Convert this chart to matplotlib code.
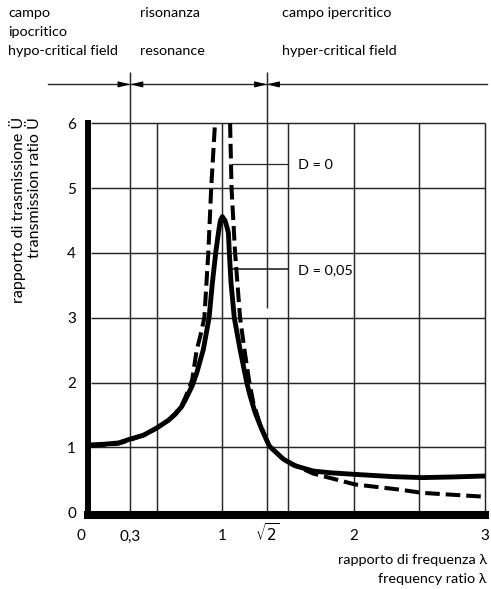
import numpy as np
import matplotlib
matplotlib.use('Agg')
import matplotlib.pyplot as plt
from matplotlib.transforms import ScaledTranslation, blended_transform_factory

plt.rcParams['font.family'] = ['Lato', 'DejaVu Sans']
plt.rcParams['mathtext.fontset'] = 'dejavusans'
plt.rcParams['lines.scale_dashes'] = False

# ---------------- data ----------------
# D = 0.05 (solid)
lam_d005 = [0.00, 0.10, 0.21, 0.30, 0.40, 0.50, 0.59, 0.64, 0.69, 0.72, 0.77, 0.805,
            0.855, 0.899, 0.924, 0.95, 0.97, 0.985, 1.00, 1.02, 1.035, 1.046, 1.053,
            1.066, 1.091, 1.135, 1.186, 1.211, 1.249, 1.30, 1.358, 1.465, 1.55,
            1.694, 1.82, 2.01, 2.30, 2.52, 2.75, 3.00]
T_d005 = [1.04, 1.05, 1.07, 1.13, 1.19, 1.30, 1.42, 1.51, 1.63, 1.74, 1.95, 2.15,
          2.51, 3.00, 3.54, 4.01, 4.31, 4.50, 4.56, 4.50, 4.40, 4.31, 4.01,
          3.54, 3.00, 2.51, 2.00, 1.80, 1.54, 1.28, 1.02, 0.82, 0.72,
          0.636, 0.61, 0.585, 0.55, 0.535, 0.545, 0.56]
# D = 0 (dashed), branch below resonance
lam_d0_left = [0.00, 0.10, 0.21, 0.30, 0.40, 0.50, 0.59, 0.64, 0.69, 0.72, 0.77,
               0.805, 0.83, 0.863, 0.893, 0.915, 0.944]
T_d0_left = [1.02, 1.04, 1.06, 1.12, 1.19, 1.30, 1.42, 1.52, 1.65, 1.78, 2.04,
             2.51, 2.70, 3.00, 4.00, 5.00, 6.00]
# D = 0 (dashed), branch above resonance
lam_d0_right = [1.059, 1.07, 1.097, 1.135, 1.168, 1.206, 1.235, 1.28, 1.33, 1.36,
                1.46, 1.59, 1.694, 2.01, 2.35, 2.52, 3.00]
T_d0_right = [6.00, 5.00, 4.00, 3.00, 2.51, 2.00, 1.70, 1.40, 1.15, 1.02,
              0.82, 0.69, 0.596, 0.43, 0.35, 0.30, 0.24]

x_tick_vals = [0, 0.3, 1, 1.34, 2, 3]
x_tick_labels = ['0', '0,3', '1', r'$\sqrt{2}$', '2', '3']
y_tick_vals = [0, 1, 2, 3, 4, 5, 6]
y_tick_labels = ['0', '1', '2', '3', '4', '5', '6']
x_grid = [0.5, 1, 1.5, 2, 2.5, 3]
y_grid = [1, 2, 3, 4, 5, 6]
region_bounds = [0.3, 1.34]
region_it = ['campo', 'risonanza', 'campo ipercritico']
region_it2 = ['ipocritico', '', '']
region_en = ['hypo-critical field', 'resonance', 'hyper-critical field']
curve_labels = ['D = 0', 'D = 0,05']
xlabel_lines = ['rapporto di frequenza λ', 'frequency ratio λ']
ylabel_lines = ['rapporto di trasmissione Ü', 'transmission ratio Ü']

# ---------------- figure ----------------
W, H = 491, 589
fig = plt.figure(figsize=(W / 100, H / 100), dpi=100)
fig.patch.set_facecolor('white')
FS = 10.4


def fx(px):
    return px / W


def fy(py):
    return 1 - py / H


ax = fig.add_axes([fx(88.4), fy(514.9), fx(485) - fx(88.4), fy(123.3) - fy(514.9)])
ax.set_xlim(-0.02, 3.0)
ax.set_ylim(-0.04, 6.0)
ax.set_facecolor('none')

for s in ['top', 'right']:
    ax.spines[s].set_visible(False)
ax.spines['left'].set_linewidth(4.3)
ax.spines['bottom'].set_linewidth(5.8)
for s in ['left', 'bottom']:
    ax.spines[s].set_capstyle('projecting')
    ax.spines[s].set_color('black')

grid_kw = dict(color='#262626', lw=1.05, clip_on=False, zorder=1)
# regular grid
ax.vlines(x_grid, 0, 6, **grid_kw)
ax.hlines(y_grid, 0, 3, **grid_kw)
# region separators (extend above the plot)
y_sep_top = 6.79
y_arrow = 6.60
ax.vlines(region_bounds[0], 0, y_sep_top, **grid_kw)
ax.vlines(region_bounds[1], 0, 3, **grid_kw)
ax.vlines(region_bounds[1], 3.15, y_sep_top, **grid_kw)
ax.plot([-0.33, 3.015], [y_arrow, y_arrow], color='#262626', lw=1.0, clip_on=False)
for b in region_bounds:
    for d in (-0.09, 0.09):
        ax.annotate('', xy=(b, y_arrow), xytext=(b + d, y_arrow),
                    arrowprops=dict(arrowstyle='-|>,head_length=0.9,head_width=0.22',
                                    color='black', lw=0.8, shrinkA=0, shrinkB=0,
                                    mutation_scale=8),
                    annotation_clip=False)

# curves
ax.plot(lam_d005, T_d005, color='black', lw=3.5, solid_capstyle='round',
        solid_joinstyle='round', zorder=4)
dash = (0, (10.5, 4.3))
ax.plot(lam_d0_left, T_d0_left, color='black', lw=2.9, ls=dash,
        dash_capstyle='butt', zorder=3)
ax.plot(lam_d0_right, T_d0_right, color='black', lw=2.9, ls=dash,
        dash_capstyle='butt', zorder=3)

# curve labels with leader lines
ax.plot([1.075, 1.5], [5.37, 5.37], color='#262626', lw=0.9, zorder=2)
ax.plot([1.074, 1.5], [3.75, 3.75], color='#262626', lw=1.2, zorder=2)
ax.text(1.576, 5.35, curve_labels[0], fontsize=FS, ha='left', va='center')
ax.text(1.576, 3.74, curve_labels[1], fontsize=FS, ha='left', va='center')

# ticks
ax.set_xticks([])
ax.set_yticks(y_tick_vals)
ax.set_yticklabels(y_tick_labels)
ax.tick_params(axis='y', length=0, pad=9, labelsize=11)
trans_x = blended_transform_factory(ax.transData, ax.transAxes)
y_lab = (514.9 - 540.5) / (514.9 - 123.3)
for v, lab in zip(x_tick_vals, x_tick_labels):
    tr = trans_x
    if v == 0:
        tr = trans_x + ScaledTranslation(-0.10, 0, fig.dpi_scale_trans)
    ax.text(v, y_lab, lab, transform=tr, ha='center', va='baseline', fontsize=11)

# region labels at top
region_x_px = [8, 140, 282]
for xp, t1, t2, t3 in zip(region_x_px, region_it, region_it2, region_en):
    fig.text(fx(xp), fy(16.7), t1, fontsize=FS, ha='left', va='baseline')
    if t2:
        fig.text(fx(xp), fy(35.7), t2, fontsize=FS, ha='left', va='baseline')
    fig.text(fx(xp), fy(55), t3, fontsize=FS, ha='left', va='baseline')

# axis titles
fig.text(fx(487), fy(564), xlabel_lines[0], fontsize=FS, ha='right', va='baseline')
fig.text(fx(487), fy(582.7), xlabel_lines[1], fontsize=FS, ha='right', va='baseline')
fig.text(fx(18), fy(117), ylabel_lines[0], fontsize=11.5, rotation=90, ha='center', va='top')
fig.text(fx(35), fy(117), ylabel_lines[1], fontsize=11.5, rotation=90, ha='center', va='top')

fig.savefig('out.png', dpi=100, facecolor='white')
